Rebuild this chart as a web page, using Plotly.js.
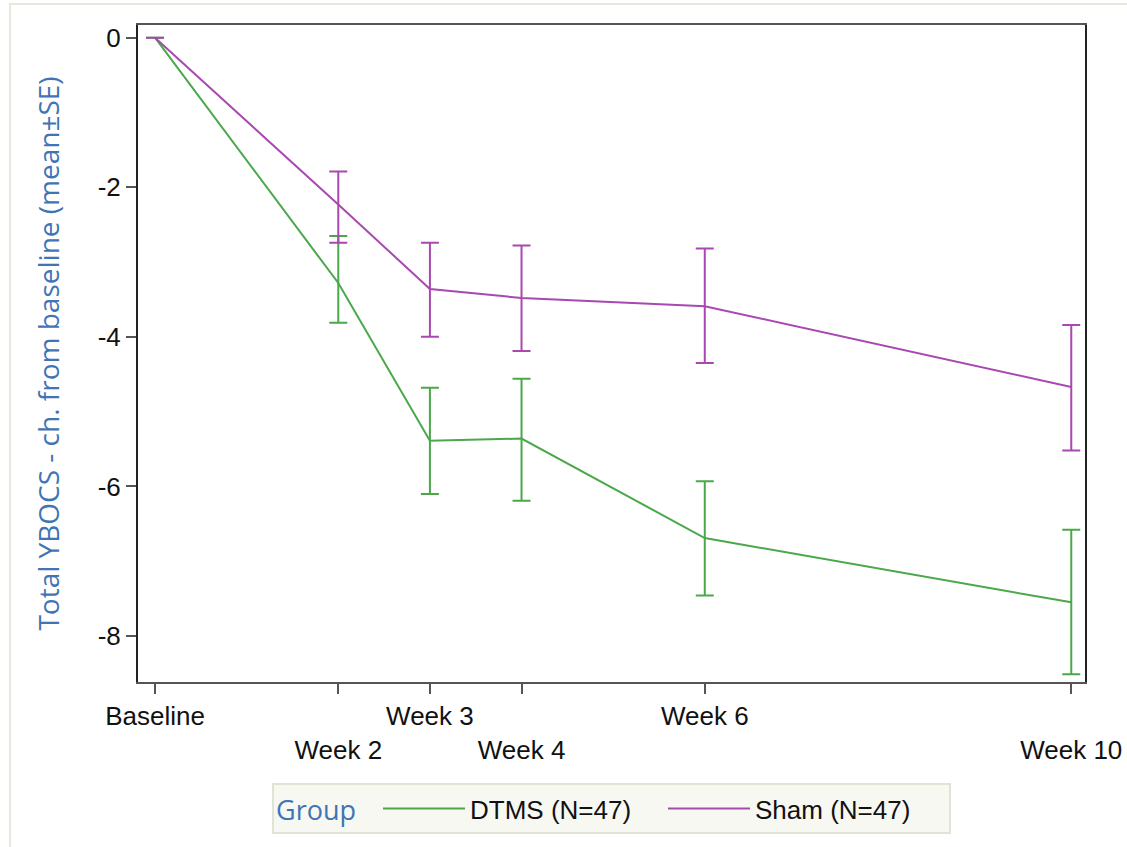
<!DOCTYPE html>
<html>
<head>
<meta charset="utf-8">
<script src="https://cdn.plot.ly/plotly-3.0.1.min.js"></script>
<style>
html,body{margin:0;padding:0;background:#fff;}
#wrap{position:relative;width:1127px;height:847px;overflow:hidden;}
#frame{position:absolute;left:9px;top:3px;width:1130px;height:860px;border:2px solid #e3e9dc;box-sizing:border-box;pointer-events:none;}
#chart{position:absolute;left:0;top:0;width:1127px;height:847px;}
</style>
</head>
<body>
<div id="wrap">
<div id="frame"></div>
<div id="chart"></div>
</div>
<script>
// Visit positions in weeks and their labels
const weeks = [0, 2, 3, 4, 6, 10];
const tickLabels = ["Baseline", "<br>Week 2", "Week 3", "<br>Week 4", "Week 6", "<br>Week 10"];

// Y-axis ticks
const yTicks = [0, -2, -4, -6, -8];
const yTickLabels = ["0", "-2", "-4", "-6", "-8"];

// DTMS (N=47): mean change from baseline and SE bounds
const dtmsMean  = [0, -3.28, -5.39, -5.36, -6.69, -7.55];
const dtmsUpper = [0, -2.65, -4.68, -4.56, -5.93, -6.58];
const dtmsLower = [0, -3.81, -6.10, -6.19, -7.46, -8.51];

// Sham (N=47)
const shamMean  = [0, -2.23, -3.36, -3.48, -3.59, -4.67];
const shamUpper = [0, -1.79, -2.74, -2.78, -2.82, -3.84];
const shamLower = [0, -2.74, -4.00, -4.19, -4.35, -5.52];

const seriesNames = ["DTMS (N=47)", "Sham (N=47)"];
const colors = ["#4aa84a", "#a848b0"];

function errs(mean, up, lo){
  return {
    plus: mean.map((m,i)=>up[i]-m),
    minus: mean.map((m,i)=>m-lo[i])
  };
}
const eD = errs(dtmsMean, dtmsUpper, dtmsLower);
const eS = errs(shamMean, shamUpper, shamLower);

const traces = [
  {x: weeks, y: dtmsMean, name: seriesNames[0], type: 'scatter', mode: 'lines',
   line: {color: colors[0], width: 2},
   error_y: {type: 'data', symmetric: false, array: eD.plus, arrayminus: eD.minus,
             color: colors[0], thickness: 2, width: 9}},
  {x: weeks, y: shamMean, name: seriesNames[1], type: 'scatter', mode: 'lines',
   line: {color: colors[1], width: 2},
   error_y: {type: 'data', symmetric: false, array: eS.plus, arrayminus: eS.minus,
             color: colors[1], thickness: 2, width: 9}}
];

const tickFont = {family: 'Liberation Sans, Arial, sans-serif', size: 26, color: '#111'};

const layout = {
  width: 1127, height: 847,
  paper_bgcolor: 'rgba(0,0,0,0)', plot_bgcolor: '#fff',
  margin: {l: 138, r: 42, t: 25, b: 165},
  font: tickFont,
  showlegend: true,
  legend: {
    orientation: 'h', x: 0.5, xanchor: 'center', y: -0.154, yanchor: 'top',
    bgcolor: '#f8f8f2', bordercolor: '#dfe4d4', borderwidth: 2,
    font: tickFont,
    title: {text: 'Group  ', font: {family: 'Open Sans, sans-serif', size: 27, color: '#3f74b5'}},
    itemwidth: 82,
    entrywidth: 188
  },
  xaxis: {
    range: [-0.186, 10.15],
    tickmode: 'array', tickvals: weeks, ticktext: tickLabels,
    ticks: 'outside', ticklen: 10, tickwidth: 2, tickcolor: '#555',
    showgrid: false, zeroline: false,
    showline: true, linecolor: '#555', linewidth: 2, mirror: true,
    tickfont: tickFont
  },
  yaxis: {
    range: [-8.615, 0.17],
    tickmode: 'array', tickvals: yTicks, ticktext: yTickLabels,
    ticks: 'outside', ticklen: 10, tickwidth: 2, tickcolor: '#555',
    showgrid: false, zeroline: false,
    showline: true, linecolor: '#222', linewidth: 2, mirror: true,
    tickfont: tickFont,
    title: {text: 'Total YBOCS - ch. from baseline (mean±SE)', standoff: 30,
            font: {family: 'Open Sans, sans-serif', size: 28, color: '#3f74b5'}}
  }
};

Plotly.newPlot('chart', traces, layout, {displayModeBar: false, staticPlot: true});
</script>
</body>
</html>
